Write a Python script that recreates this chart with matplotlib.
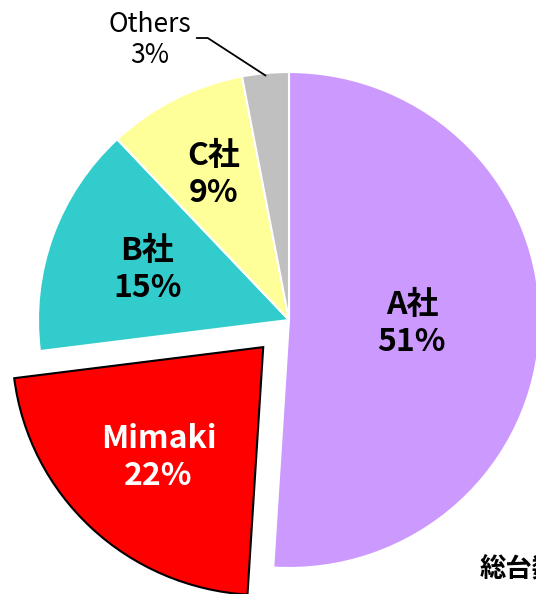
import numpy as np
import matplotlib
matplotlib.use("Agg")
import matplotlib.pyplot as plt

# シェアデータ（12時から時計回り）
labels = ["A社", "Mimaki", "B社", "C社", "Others"]
shares = [51, 22, 15, 9, 3]
colors = ["#CC99FF", "#FF0000", "#33CCCC", "#FFFF99", "#C0C0C0"]
explode = [0, 0.15, 0, 0, 0]
text_colors = ["black", "white", "black", "black", "black"]
label_dist = [0.49, 0.61, 0.60, 0.66, None]

FONT = ["Noto Sans CJK JP", "DejaVu Sans"]

fig = plt.figure(figsize=(5.36, 5.94), dpi=100)
# 円の中心 (289, 320) px, 半径 ~251 x 248 px
RX, RY = 251, 248
cx, cy = 289, 594 - 320
ax = fig.add_axes([(cx - RX) / 536, (cy - RY) / 594, 2 * RX / 536, 2 * RY / 594])

wedges, _ = ax.pie(shares, colors=colors, explode=explode, startangle=90,
                   counterclock=False, radius=1.0,
                   wedgeprops=dict(edgecolor="white", linewidth=1.5))
wedges[1].set_edgecolor("black")
wedges[1].set_linewidth(1.5)
ax.set_xlim(-1, 1)
ax.set_ylim(-1, 1)
ax.set_aspect("auto")
ax.axis("off")

for w, lab, s, tc, d, ex in zip(wedges, labels, shares, text_colors, label_dist, explode):
    if d is None:
        continue
    mid = np.deg2rad((w.theta1 + w.theta2) / 2)
    x = (d + ex) * np.cos(mid)
    y = (d + ex) * np.sin(mid)
    ax.text(x, y, f"{lab}\n{s}%", ha="center", va="center", color=tc,
            fontsize=23, fontweight="bold", family=FONT, linespacing=1.2)

# Others はリーダー線付き
w = wedges[4]
mid = np.deg2rad((w.theta1 + w.theta2) / 2)
tip = (np.cos(mid) * 0.99, np.sin(mid) * 0.99)
ax.annotate(f"{labels[4]}\n{shares[4]}%", xy=tip, xytext=(-0.555, 1.13),
            ha="center", va="center", fontsize=19, family=FONT,
            annotation_clip=False,
            arrowprops=dict(arrowstyle="-", color="black", lw=1.3,
                            connectionstyle="angle,angleA=0,angleB=147,rad=0",
                            shrinkA=2, shrinkB=0, relpos=(1.0, 0.53)))

fig.text(480 / 536, 1 - 570 / 594, "総台数", fontsize=19, fontweight="bold",
         family=FONT, ha="left", va="center")

fig.savefig("out.png", dpi=100)
